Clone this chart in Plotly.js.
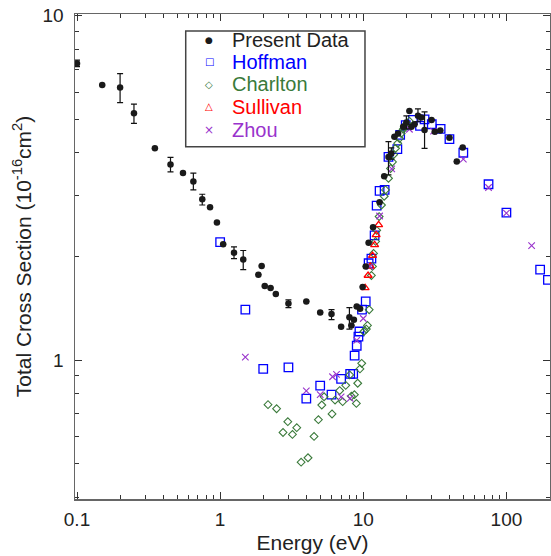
<!DOCTYPE html>
<html><head><meta charset="utf-8">
<script src="https://cdn.plot.ly/plotly-3.0.1.min.js"></script>
<style>html,body{margin:0;padding:0;background:#fff}#chart{width:551px;height:556px}</style>
</head><body><div id="chart"></div>
<script>
// ---------------- data ----------------
const presentE = [0.1,0.15,0.2,0.25,0.35,0.45,0.55,0.65,0.75,0.85,0.95,1.05,1.25,1.45,1.85,1.95,2.05,2.25,2.45,3.0,4.0,5.0,6.0,7.0,8.0,8.26,8.6,9.0,9.5,9.9,10.4,10.9,11.7,13.0,14.0,15.0,15.7,16.5,17.5,19.0,20.0,21.0,21.7,22.8,24.1,25.4,26.8,30.0,31.6,34.5,40.0,45.0,49.5];
const presentSigma = [7.27,6.29,6.19,5.21,4.12,3.70,3.49,3.30,2.93,2.78,2.51,2.17,2.05,1.96,1.77,1.875,1.64,1.62,1.555,1.46,1.48,1.375,1.36,1.25,1.33,1.26,1.31,1.43,1.41,1.63,1.87,2.19,2.43,2.87,3.42,3.89,3.98,4.45,4.55,4.76,4.90,5.29,4.76,4.84,5.12,5.06,4.66,4.98,4.60,4.64,4.42,3.77,4.14];
const presentErrUp = [0.16,0,0.6,0.33,0,0.18,0,0.19,0.10,0,0,0,0.08,0.12,0,0,0,0,0,0.035,0,0,0.04,0,0.09,0,0,0,0,0,0,0,0,0,0,0.42,0.15,0,0,0,0.22,0,0,0,0.24,0,0.6,0,0,0,0,0,0];
const presentErrDown = [0.16,0,0.6,0.34,0,0.18,0,0.18,0.11,0,0,0,0.08,0.13,0,0,0,0,0,0.04,0,0,0.05,0,0.10,0,0,0,0,0,0,0,0,0,0,0.44,0.15,0,0,0,0.21,0,0,0,0.20,0,0.54,0,0,0,0,0,0];

const hoffmanE = [1.0,1.5,2.0,3.0,4.0,5.0,6.0,7.0,8.1,8.5,8.7,9.0,9.25,9.4,9.8,10.4,10.9,11.4,12.0,12.4,13.0,14.1,15.0,17.3,18.1,19.8,22.2,24.9,26.8,30.1,34.7,40,50,75,100,172,195];
const hoffmanSigma = [2.20,1.40,0.942,0.952,0.772,0.842,0.793,0.882,0.911,0.911,1.03,1.10,1.17,1.21,1.40,1.48,1.91,1.97,2.30,2.81,3.10,3.12,3.89,4.10,4.51,4.81,4.98,4.79,5.00,4.84,4.69,4.38,4.00,3.24,2.68,1.83,1.71];

const charltonE = [2.16,2.48,2.75,2.97,3.2,3.43,3.68,4.11,4.53,4.86,5.13,5.32,6.05,6.35,6.84,7.18,7.54,8.04,8.26,8.67,8.95,9.14,9.48,9.75,10.1,10.5,10.7,11.0,11.4,11.6,11.8,12.2,12.4,12.9,13.4,14.0,14.3,15.0,15.5,16.0,16.3,16.8,17.4,17.9,18.4,19.0,19.4,20.2,21.0];
const charltonSigma = [0.742,0.722,0.616,0.662,0.608,0.636,0.505,0.520,0.600,0.671,0.740,0.782,0.697,0.765,0.815,0.757,0.844,0.905,0.785,0.793,0.748,0.856,0.942,0.978,1.21,1.23,1.26,1.40,1.76,1.87,2.04,2.21,2.38,2.61,2.82,2.99,3.12,3.37,3.60,3.76,3.95,4.12,4.26,4.40,4.55,4.68,4.76,4.86,4.94];

const sullivanE = [10.3,10.8,11.2,11.6,12.0,12.3,12.8];
const sullivanSigma = [1.62,1.76,1.87,2.01,2.16,2.31,2.47];

const zhouE = [1.5,4.0,5.0,6.1,6.5,7.0,8.1,9.0,10.0,11.1,13.0,15.8,21.0,31.0,50,75,100,150];
const zhouSigma = [1.02,0.813,0.793,0.894,0.908,0.782,0.774,1.14,1.32,1.87,2.62,3.59,4.68,4.62,3.83,3.17,2.67,2.15];

const xTickVals = [0.1,1,10,100];
const xTickText = ['0.1','1','10','100'];
const xMinorVals = [0.2,0.3,0.4,0.5,0.6,0.7,0.8,0.9,2,3,4,5,6,7,8,9,20,30,40,50,60,70,80,90,200];
const yTickVals = [1,10];
const yTickText = ['1','10'];
const yMinorVals = [0.4,0.5,0.6,0.7,0.8,0.9,2,3,4,5,6,7,8,9];

const seriesNames = ['Present Data','Hoffman','Charlton','Sullivan','Zhou'];
const seriesColors = ['#1a1a1a','#0000ff','#3a7a3a','#ff0000','#9933cc'];
const legendGlyphs = ['\u25CF','\u25A1','\u25C7','\u25B3','\u00D7'];

// ---------------- traces ----------------
const FONT = '"Liberation Sans", Arial, Helvetica, sans-serif';
const traces = [
  {x: hoffmanE, y: hoffmanSigma, name: seriesNames[1], type: 'scatter', mode: 'markers',
   marker: {symbol: 'square-open', size: 8.5, color: seriesColors[1], line: {width: 1.3, color: seriesColors[1]}}},
  {x: charltonE, y: charltonSigma, name: seriesNames[2], type: 'scatter', mode: 'markers',
   marker: {symbol: 'diamond-open', size: 6, color: seriesColors[2], line: {width: 1.1, color: seriesColors[2]}}},
  {x: sullivanE, y: sullivanSigma, name: seriesNames[3], type: 'scatter', mode: 'markers',
   marker: {symbol: 'triangle-up-open', size: 7, color: seriesColors[3], line: {width: 1.3, color: seriesColors[3]}}},
  {x: zhouE, y: zhouSigma, name: seriesNames[4], type: 'scatter', mode: 'markers',
   marker: {symbol: 'x-thin-open', size: 6.5, color: seriesColors[4], line: {width: 1.1, color: seriesColors[4]}}},
  {x: presentE, y: presentSigma, name: seriesNames[0], type: 'scatter', mode: 'markers',
   marker: {symbol: 'circle', size: 6.5, color: seriesColors[0]},
   error_y: {type: 'data', symmetric: false, array: presentErrUp, arrayminus: presentErrDown,
             color: '#111', thickness: 1.2, width: 3}}
];

// ---------------- legend drawn as a boxed list ----------------
const legendRowsY = [0.9459, 0.9014, 0.8552, 0.8086, 0.7618];
const annotations = [];
seriesNames.forEach((n, i) => {
  annotations.push({xref: 'paper', yref: 'paper', x: 0.2827, y: legendRowsY[i], xanchor: 'center', yanchor: 'middle',
    showarrow: false, text: legendGlyphs[i], font: {family: '"DejaVu Sans", sans-serif', size: i === 0 ? 9 : (i === 4 ? 12 : 10), color: seriesColors[i]}});
  annotations.push({xref: 'paper', yref: 'paper', x: 0.327, y: legendRowsY[i], xanchor: 'left', yanchor: 'middle',
    showarrow: false, text: n, font: {family: FONT, size: 20, color: i === 0 ? '#222' : seriesColors[i]}});
});

const axisCommon = {
  type: 'log', showgrid: false, zeroline: false, showline: true, linecolor: '#666', linewidth: 1.5,
  mirror: 'ticks', ticks: 'inside', ticklen: 7, tickwidth: 1, tickcolor: '#333',
  tickfont: {family: FONT, size: 19, color: '#222'}
};

const layout = {
  width: 551, height: 556,
  margin: {l: 75, r: 1, t: 14, b: 57},
  paper_bgcolor: '#fff', plot_bgcolor: '#fff',
  showlegend: false,
  font: {family: FONT, color: '#222'},
  xaxis: Object.assign({}, axisCommon, {
    range: [-1.014, 2.3045], tickmode: 'array', tickvals: xTickVals, ticktext: xTickText,
    ticklabelstandoff: 3,
    minor: {tickmode: 'array', tickvals: xMinorVals, ticks: 'inside', ticklen: 4, tickwidth: 1, tickcolor: '#333', showgrid: false},
    title: {text: 'Energy (eV)', font: {family: FONT, size: 21, color: '#222'}, standoff: 6}
  }),
  yaxis: Object.assign({}, axisCommon, {
    range: [-0.4037, 1.005], tickmode: 'array', tickvals: yTickVals, ticktext: yTickText,
    ticklabelstandoff: 6,
    minor: {tickmode: 'array', tickvals: yMinorVals, ticks: 'inside', ticklen: 4, tickwidth: 1, tickcolor: '#333', showgrid: false},
    title: {text: 'Total Cross Section (10<sup>-16</sup>cm<sup>2</sup>)', font: {family: FONT, size: 21, color: '#222'}, standoff: 5}
  }),
  shapes: [{type: 'rect', xref: 'paper', yref: 'paper', x0: 0.2331, x1: 0.6105, y0: 0.7264, y1: 0.9649,
            line: {color: '#444', width: 1.5}, fillcolor: 'rgba(0,0,0,0)', layer: 'below'}],
  annotations: annotations
};

Plotly.newPlot('chart', traces, layout, {displayModeBar: false, staticPlot: true});
</script></body></html>
